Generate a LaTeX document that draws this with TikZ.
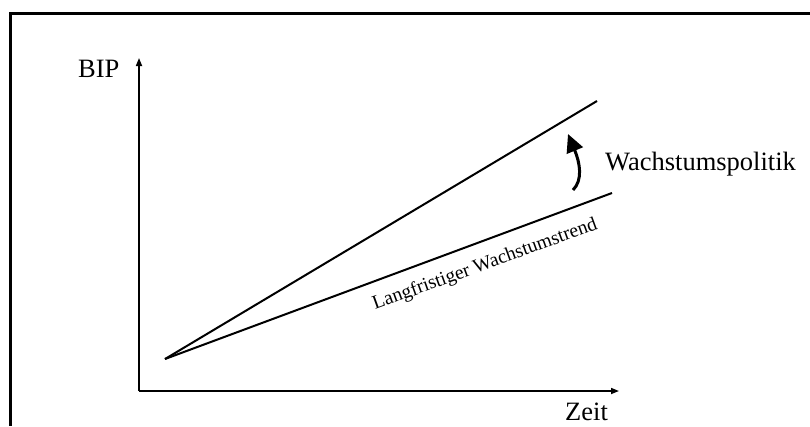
\documentclass[tikz,border=0pt]{standalone}
\usepackage{fontspec}
\setmainfont{Liberation Serif}
\usetikzlibrary{arrows.meta}
\begin{document}
\begin{tikzpicture}[x=1pt,y=-1pt,
  axis/.style={line width=1.6pt,-{Triangle[length=8pt,width=6pt]}},
  graphline/.style={line width=2pt},
  lbl/.style={inner sep=0pt,font=\fontsize{26.5}{28}\selectfont},
  frameline/.style={line width=3pt}]
\useasboundingbox (0,0) rectangle (810,426);
% frame (top and left only)
\coordinate (ftl) at (10.5,13.5);
\coordinate (ftr) at (810,13.5);
\coordinate (fbl) at (10.5,426);
\draw[frameline] (ftr) -- (ftl) -- (fbl);
% axes
\coordinate (o) at (139,391);
\coordinate (ytop) at (139,58);
\coordinate (xend) at (619,391);
\draw[axis] (o) -- (ytop);
\draw[axis] (o) -- (xend);
% growth lines
\coordinate (start) at (165,359);
\coordinate (upper) at (597,101);
\coordinate (lower) at (612,193);
\draw[graphline] (start) -- (upper);
\draw[graphline] (start) -- (lower);
% curved arrow
\coordinate (ctail) at (573,190);
\coordinate (ctip) at (568,134);
\draw[line width=3pt,-{Triangle[length=18pt,width=17pt]}] (ctail) .. controls (583,180) and (580,163) .. (ctip);
% labels
\node[lbl,anchor=base west] (bip) at (78,77) {BIP};
\node[lbl,anchor=base west] (zeit) at (565,420) {Zeit};
\node[lbl,anchor=base west] (wp) at (605,170) {Wachstumspolitik};
\node[inner sep=0pt,font=\fontsize{19.6}{21}\selectfont,anchor=base west,rotate=20] (trend) at (375,310) {Langfristiger Wachstumstrend};
\end{tikzpicture}
\end{document}
